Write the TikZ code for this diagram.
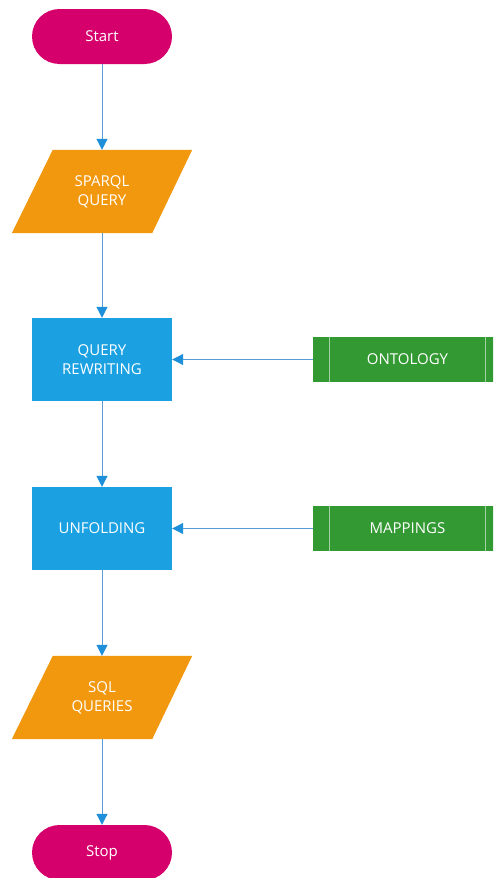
\documentclass[tikz,border=0pt]{standalone}
\usepackage{fontspec}
\setmainfont{Open Sans}
\usetikzlibrary{arrows.meta,backgrounds,calc}
\definecolor{termcol}{HTML}{D5006C}
\definecolor{iocol}{HTML}{F2980E}
\definecolor{proccol}{HTML}{1BA1E2}
\definecolor{extcol}{HTML}{339933}
\definecolor{linecol}{HTML}{5B9BD5}
\definecolor{tipcol}{HTML}{1E8FD9}
\tikzset{
  lbl/.style={text=white, align=center, font=\fontsize{15}{19}\selectfont},
  terminal/.style={lbl, fill=termcol, rounded corners=27.5pt,
    minimum width=140pt, minimum height=55pt, inner sep=0pt},
  process/.style={lbl, fill=proccol, minimum width=140pt, minimum height=83pt, inner sep=0pt},
  iobox/.style={lbl, minimum width=140pt, minimum height=83pt, inner sep=0pt},
  extbox/.style={lbl, fill=extcol, minimum width=189pt, minimum height=45pt, inner sep=0pt},
  flow/.style={draw=linecol, line width=1pt,
    -{Triangle[length=11pt,width=11pt,color=tipcol]}},
}
\begin{document}
\begin{tikzpicture}[x=1pt,y=-1pt]
  \useasboundingbox (0,0) rectangle (493,878);
  \clip (0,0) rectangle (493,878);

  % main column
  \node[terminal] (start)  at (102,36.5)  {Start};
  \node[iobox]    (sparql) at (102,191.5) {SPARQL\\QUERY};
  \node[process]  (rewr)   at (102,359.5) {QUERY\\REWRITING};
  \node[process]  (unfold) at (102,528.5) {UNFOLDING};
  \node[iobox]    (sql)    at (102,697.5) {SQL\\QUERIES};
  \node[terminal] (stop)   at (102,852.5) {Stop};

  % external inputs
  \node[extbox] (onto) at (407.5,359.5) {ONTOLOGY};
  \node[extbox] (map)  at (407.5,528.5) {MAPPINGS};

  % page ground and parallelogram bodies
  \begin{scope}[on background layer]
    \fill[white] (0,0) rectangle (493,878);
    \foreach \n in {sparql,sql}{
      \fill[iocol] ($(\n.north west)+(21,0)$) -- ($(\n.north east)+(20,0)$)
        -- ($(\n.south east)+(-20,0)$) -- ($(\n.south west)+(-20,0)$) -- cycle;
    }
  \end{scope}
  % predefined-process bars
  \foreach \n in {onto,map}{
    \draw[white, opacity=0.55, line width=0.8pt]
      ($(\n.north west)+(17,0)$) -- ($(\n.south west)+(17,0)$)
      ($(\n.north east)+(-17,0)$) -- ($(\n.south east)+(-17,0)$);
  }

  % connectors
  \draw[flow] (start) -- (sparql);
  \draw[flow] (sparql) -- (rewr);
  \draw[flow] (rewr) -- (unfold);
  \draw[flow] (unfold) -- (sql);
  \draw[flow] (sql) -- (stop);
  \draw[flow] (onto) -- (rewr);
  \draw[flow] (map) -- (unfold);
\end{tikzpicture}
\end{document}
